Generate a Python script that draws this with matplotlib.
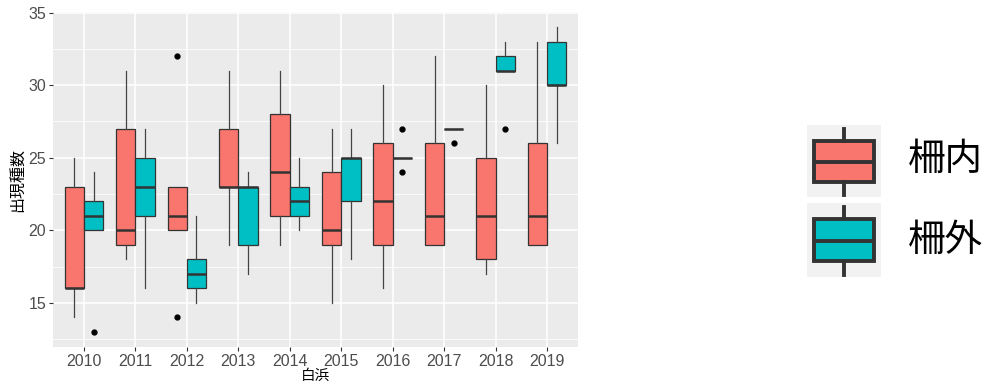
import numpy as np
import matplotlib
matplotlib.use("Agg")
from matplotlib import pyplot as plt

plt.rcParams["font.family"] = ["Liberation Sans", "Noto Sans CJK JP", "DejaVu Sans"]

years = ["2010", "2011", "2012", "2013", "2014", "2015", "2016", "2017", "2018", "2019"]
groups = ["柵内", "柵外"]
colors = ["#F8766D", "#00BFC4"]

# box stats per year: whisker low, Q1, median, Q3, whisker high, outliers
inside_lo = [14, 18, 20, 19, 19, 15, 16, 19, 17, 19]
inside_q1 = [16, 19, 20, 23, 21, 19, 19, 19, 18, 19]
inside_med = [16, 20, 21, 23, 24, 20, 22, 21, 21, 21]
inside_q3 = [23, 27, 23, 27, 28, 24, 26, 26, 25, 26]
inside_hi = [25, 31, 23, 31, 31, 27, 30, 32, 30, 33]
inside_out = [[], [], [32, 14], [], [], [], [], [], [], []]

outside_lo = [20, 16, 15, 17, 20, 18, 25, 27, 31, 26]
outside_q1 = [20, 21, 16, 19, 21, 22, 25, 27, 31, 30]
outside_med = [21, 23, 17, 23, 22, 25, 25, 27, 31, 30]
outside_q3 = [22, 25, 18, 23, 23, 25, 25, 27, 32, 33]
outside_hi = [24, 27, 21, 24, 25, 27, 25, 27, 33, 34]
outside_out = [[13], [], [], [], [], [], [27, 24], [26], [27], []]


def make_stats(lo, q1, med, q3, hi, out):
    return [dict(whislo=a, q1=b, med=c, q3=d, whishi=e, fliers=f)
            for a, b, c, d, e, f in zip(lo, q1, med, q3, hi, out)]


series = [
    make_stats(inside_lo, inside_q1, inside_med, inside_q3, inside_hi, inside_out),
    make_stats(outside_lo, outside_q1, outside_med, outside_q3, outside_hi, outside_out),
]

fig = plt.figure(figsize=(9.89, 3.91), dpi=100)
ax = fig.add_axes([0.0536, 0.1125, 0.5308, 0.8568])
ax.set_facecolor("#EBEBEB")

edge = "#333333"
x = np.arange(1, len(years) + 1)
dodge = 0.1875
for k, stats in enumerate(series):
    pos = x + (k - 0.5) * 2 * dodge
    ax.bxp(stats, positions=pos, widths=0.375, patch_artist=True,
           showcaps=False, manage_ticks=False,
           boxprops=dict(facecolor=colors[k], edgecolor=edge, linewidth=0.9),
           medianprops=dict(color=edge, linewidth=1.8, solid_capstyle="butt"),
           whiskerprops=dict(color="#444444", linewidth=0.9),
           flierprops=dict(marker="o", markerfacecolor="black", markeredgecolor="black",
                           markersize=3.5), zorder=3)

ax.set_xlim(0.4, len(years) + 0.6)
ax.set_ylim(11.95, 35.05)
ax.set_xticks(x)
ax.set_xticklabels(years)
ax.set_yticks([15, 20, 25, 30, 35])
ax.set_yticks([12.5, 17.5, 22.5, 27.5, 32.5], minor=True)
ax.grid(True, which="major", color="white", linewidth=1.1, zorder=0)
ax.grid(True, which="minor", axis="y", color="white", linewidth=0.55, zorder=0)
ax.set_axisbelow(True)
for s in ax.spines.values():
    s.set_visible(False)
ax.tick_params(which="major", colors="#333333", length=3, width=0.8,
               labelcolor="#4D4D4D", labelsize=11.5, pad=2)
ax.tick_params(which="minor", length=0)
ax.set_xlabel("白浜", fontsize=10.5, color="black", labelpad=0,
              family=["Noto Sans CJK JP", "DejaVu Sans"])
ax.set_ylabel("出現種数", fontsize=11.5, color="black", labelpad=2,
              family=["Noto Sans CJK JP", "DejaVu Sans"])

# legend keys
key_boxes = [[0.816, 0.496, 0.0748, 0.184], [0.816, 0.2916, 0.0748, 0.189]]
label_y = [0.591, 0.386]
for k, rect in enumerate(key_boxes):
    kax = fig.add_axes(rect)
    kax.set_facecolor("#F2F2F2")
    kax.bxp([dict(whislo=0.03, q1=0.21, med=0.49, q3=0.78, whishi=0.95, fliers=[])],
            positions=[0.5], widths=0.8, patch_artist=True, showcaps=False,
            manage_ticks=False,
            boxprops=dict(facecolor=colors[k], edgecolor=edge, linewidth=2.8),
            medianprops=dict(color=edge, linewidth=2.8),
            whiskerprops=dict(color=edge, linewidth=2.8))
    kax.set_xlim(0, 1)
    kax.set_ylim(0, 1)
    kax.set_xticks([])
    kax.set_yticks([])
    for s in kax.spines.values():
        s.set_visible(False)
    fig.text(0.918, label_y[k], groups[k], fontsize=27, va="center", ha="left",
             family=["Noto Sans CJK JP", "DejaVu Sans"])

fig.savefig("out.png", dpi=100)
